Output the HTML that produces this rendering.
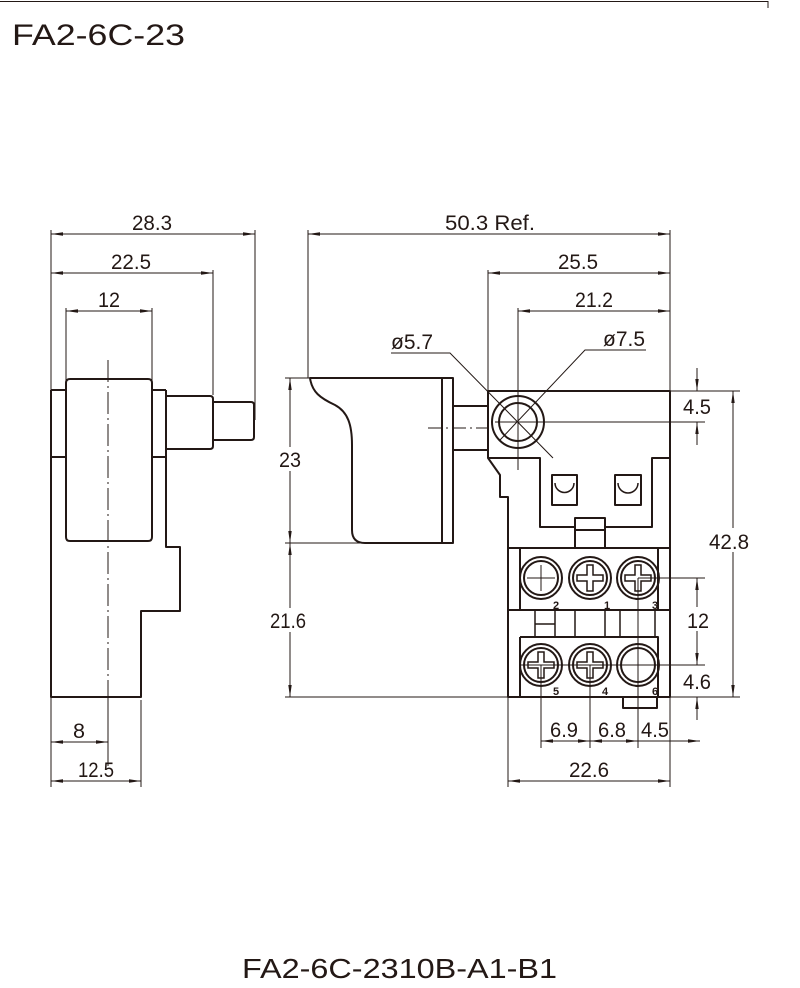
<!DOCTYPE html>
<html><head><meta charset="utf-8"><style>
html,body{margin:0;padding:0;background:#fff;width:800px;height:988px;overflow:hidden}
svg{display:block}
text{font-family:"Liberation Sans",sans-serif;fill:#231815}
.d{font-size:21px}
.s{font-size:11px;font-weight:bold}
</style></head><body>
<svg width="800" height="988" viewBox="0 0 800 988" xmlns="http://www.w3.org/2000/svg">
<defs>
<marker id="a" viewBox="0 0 12 4" refX="12" refY="2" markerWidth="12" markerHeight="4" markerUnits="userSpaceOnUse" orient="auto-start-reverse"><path d="M0,0.3 L12,2 L0,3.7z" fill="#231815"/></marker>
<path id="px" d="M-3,-13 H3 V-3 H13 V3 H3 V13 H-3 V3 H-13 V-3 H-3 Z"/>
</defs>
<g stroke="#231815" fill="none" stroke-width="1">
<path d="M0,1.5 H768 V8"/>
</g>
<text x="12" y="45" style="font-size:30px" textLength="173" lengthAdjust="spacingAndGlyphs">FA2-6C-23</text>
<text x="242" y="978" style="font-size:28px" textLength="315" lengthAdjust="spacingAndGlyphs">FA2-6C-2310B-A1-B1</text>

<!-- LEFT VIEW -->
<g stroke="#231815" fill="none" stroke-width="2" stroke-linejoin="round">
<path d="M51,390 V697 H141 V611 H180 V547 H166 V390"/>
<path d="M51,390 H66 M152,390 H166 M51,457 H66 M152,457 H166"/>
<path d="M66,383 Q66,379 70,379 H148 Q152,379 152,383 V537 Q152,541 148,541 H70 Q66,541 66,537 Z"/>
<path d="M166,396 H210 Q213,396 213,399 V446 Q213,449 210,449 H166"/>
<path d="M213,402 H251 Q254,402 254,405 V437 Q254,440 251,440 H213"/>
</g>
<g stroke="#231815" fill="none" stroke-width="1">
<path d="M108,360 V770" stroke-dasharray="22,4,2,4"/>
<path d="M51,230 V787 M255,230 V420 M213,270 V395 M66,308 V380 M152,308 V380 M108,700 V750 M141,700 V787"/>
<path d="M51,234 H255" marker-start="url(#a)" marker-end="url(#a)"/>
<path d="M51,273 H213" marker-start="url(#a)" marker-end="url(#a)"/>
<path d="M66,311 H152" marker-start="url(#a)" marker-end="url(#a)"/>
<path d="M51,742 H108" marker-start="url(#a)" marker-end="url(#a)"/>
<path d="M51,781 H141" marker-start="url(#a)" marker-end="url(#a)"/>
</g>
<g class="d">
<text x="132" y="230" textLength="40" lengthAdjust="spacingAndGlyphs">28.3</text>
<text x="111" y="269" textLength="40" lengthAdjust="spacingAndGlyphs">22.5</text>
<text x="98" y="307" textLength="22" lengthAdjust="spacingAndGlyphs">12</text>
<text x="73" y="738" textLength="12" lengthAdjust="spacingAndGlyphs">8</text>
<text x="78" y="777" textLength="36" lengthAdjust="spacingAndGlyphs">12.5</text>
</g>

<!-- RIGHT VIEW -->
<g stroke="#231815" fill="none" stroke-width="2" stroke-linejoin="round">
<path d="M310,378 C312,392 320,398 335,405 C348,412 352,425 352,445 V530 Q352,543 365,543 H442 V378 Z"/>
<path d="M442,378 H453 V543 H442"/>
<path d="M453,406 H488 M453,450 H488"/>
<path d="M488,391 H670 V697 H508 V497 H500 V475 L488,458 Z"/>
<path d="M488,458 H540 V527 H575 V518 H605 V527 H652 V458 H670"/>
<path d="M575,518 V548 M605,518 V548 M575,530 H605"/>
<rect x="552" y="475" width="25" height="30"/>
<rect x="615" y="475" width="26" height="30"/>
<path d="M555,483 A9.5,9.5 0 0 0 574,483 M618,483 A10,10 0 0 0 638,483" stroke-width="1.5"/>
<path d="M520,548 V610 H658 V548 Z M508,548 H520 M658,548 H670"/>
<path d="M520,637 H658 V697 M520,637 V697"/>
<path d="M508,610 H670"/>
<path d="M623,697 V708 H657 V697"/>
<circle cx="518" cy="422" r="26"/>
<circle cx="518" cy="422" r="19"/>
</g>
<g stroke="#231815" fill="none" stroke-width="2">
<circle cx="541" cy="578" r="21"/><circle cx="541" cy="578" r="17"/>
<circle cx="590" cy="578" r="21"/><circle cx="590" cy="578" r="17"/>
<circle cx="638" cy="578" r="21"/><circle cx="638" cy="578" r="17"/>
<circle cx="541" cy="665" r="21"/><circle cx="541" cy="665" r="17"/>
<circle cx="590" cy="665" r="21"/><circle cx="590" cy="665" r="17"/>
<circle cx="638" cy="665" r="21"/><circle cx="638" cy="665" r="17"/>
</g>
<g stroke="#231815" fill="none" stroke-width="1.5">
<use href="#px" x="590" y="578"/>
<use href="#px" x="638" y="578"/>
<use href="#px" x="541" y="665"/>
<use href="#px" x="590" y="665"/>
<path d="M535,610 V637 M555,610 V637 M535,624 H555 M575,610 V637 M605,610 V637 M620,610 V637 M655,610 V637"/>
</g>
<g stroke="#231815" fill="none" stroke-width="1">
<path d="M428,428 H488" stroke-dasharray="14,4,2,4"/>
<path d="M518,400 V445 M495,422 H540"/>
<path d="M527,578 H555 M541,565 V591"/>
<path d="M624,665 H652 M638,652 V678"/>
<path d="M308,230 V378 M670,230 V391 M488,270 V391 M518,308 V470"/>
<path d="M670,391 H740 M540,422 H705 M638,578 H705 M520,665 H705 M285,697 H740"/>
<path d="M285,378 H310 M285,543 H442"/>
<path d="M541,665 V748 M590,665 V748 M638,578 V748 M670,697 V787 M508,697 V787"/>
<path d="M391,353 H450 L553,458"/>
<path d="M646,350 H585 L500,440"/>
<path d="M308,234 H670" marker-start="url(#a)" marker-end="url(#a)"/>
<path d="M488,273 H670" marker-start="url(#a)" marker-end="url(#a)"/>
<path d="M518,311 H670" marker-start="url(#a)" marker-end="url(#a)"/>
<path d="M290,378 V543" marker-start="url(#a)" marker-end="url(#a)"/>
<path d="M290,543 V697" marker-start="url(#a)" marker-end="url(#a)"/>
<path d="M733,391 V697" marker-start="url(#a)" marker-end="url(#a)"/>
<path d="M697,368 V391" marker-end="url(#a)"/>
<path d="M697,445 V422" marker-end="url(#a)"/>
<path d="M697,578 V665" marker-start="url(#a)" marker-end="url(#a)"/>
<path d="M697,720 V697" marker-end="url(#a)"/>
<path d="M541,741 H590" marker-start="url(#a)" marker-end="url(#a)"/>
<path d="M590,741 H638" marker-start="url(#a)" marker-end="url(#a)"/>
<path d="M638,741 H700" marker-end="url(#a)"/>
<path d="M508,781 H670" marker-start="url(#a)" marker-end="url(#a)"/>
</g>
<rect x="709" y="528" width="40" height="24" fill="#fff"/>
<rect x="686" y="607" width="22" height="24" fill="#fff"/>
<rect x="270" y="608" width="38" height="24" fill="#fff"/>
<rect x="279" y="447" width="22" height="24" fill="#fff"/>
<g class="d">
<text x="445" y="230" textLength="90" lengthAdjust="spacingAndGlyphs">50.3 Ref.</text>
<text x="558" y="269" textLength="40" lengthAdjust="spacingAndGlyphs">25.5</text>
<text x="575" y="307" textLength="38" lengthAdjust="spacingAndGlyphs">21.2</text>
<text x="391" y="349" textLength="42" lengthAdjust="spacingAndGlyphs">ø5.7</text>
<text x="603" y="346" textLength="42" lengthAdjust="spacingAndGlyphs">ø7.5</text>
<text x="279" y="467" textLength="22" lengthAdjust="spacingAndGlyphs">23</text>
<text x="270" y="628" textLength="36" lengthAdjust="spacingAndGlyphs">21.6</text>
<text x="709" y="549" textLength="40" lengthAdjust="spacingAndGlyphs">42.8</text>
<text x="683" y="414" textLength="28" lengthAdjust="spacingAndGlyphs">4.5</text>
<text x="687" y="628" textLength="22" lengthAdjust="spacingAndGlyphs">12</text>
<text x="683" y="689" textLength="28" lengthAdjust="spacingAndGlyphs">4.6</text>
<text x="550" y="737" textLength="28" lengthAdjust="spacingAndGlyphs">6.9</text>
<text x="598" y="737" textLength="28" lengthAdjust="spacingAndGlyphs">6.8</text>
<text x="641" y="737" textLength="28" lengthAdjust="spacingAndGlyphs">4.5</text>
<text x="569" y="777" textLength="40" lengthAdjust="spacingAndGlyphs">22.6</text>
</g>
<text class="s" x="556" y="609" text-anchor="middle">2</text>
<text class="s" x="607" y="609" text-anchor="middle">1</text>
<text class="s" x="655" y="609" text-anchor="middle">3</text>
<text class="s" x="556" y="695" text-anchor="middle">5</text>
<text class="s" x="605" y="695" text-anchor="middle">4</text>
<text class="s" x="655" y="695" text-anchor="middle">6</text>
</svg>
</body></html>
